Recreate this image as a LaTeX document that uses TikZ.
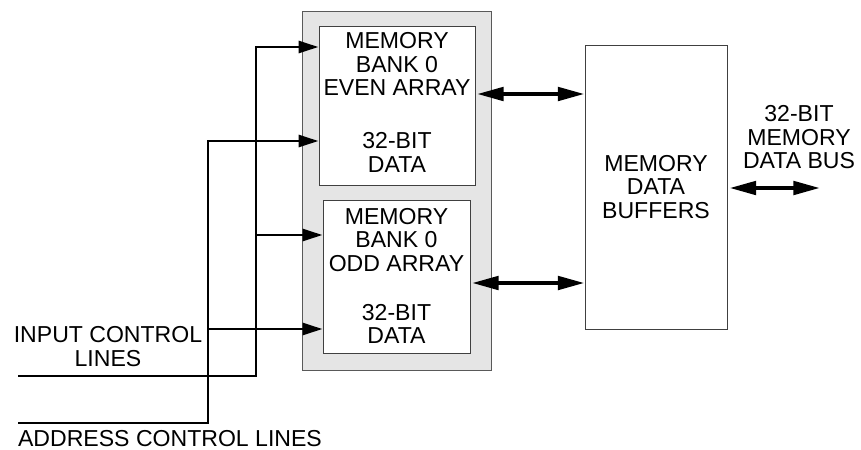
\documentclass[tikz,border=0pt]{standalone}
\usepackage{fontspec}
\setmainfont{Liberation Sans}
\usepackage{tikz}
\usetikzlibrary{arrows.meta, positioning}
\tikzset{
  lbl/.style={inner sep=0pt, align=center, anchor=north,
              font=\fontsize{17.3}{17.6}\selectfont},
  bankbox/.style={rectangle, draw=black!75, line width=0.75pt, fill=white},
  frame/.style={rectangle, draw=black!65, line width=0.75pt, fill=black!10},
  ctrl/.style={-{Triangle[length=15pt, width=9pt]}, line width=2.2pt},
  bus/.style={{Triangle[length=20pt, width=10pt]}-{Triangle[length=20pt, width=10pt]},
              line width=3pt},
}

\begin{document}
\begin{tikzpicture}[x=0.75pt, y=-0.75pt]
  \useasboundingbox (0,0) rectangle (861,450);

  % bank 0 with its two arrays
  \node[frame, minimum width=141.75pt, minimum height=269.25pt] (bank) at (396.5,190.5) {};
  \node[bankbox, minimum width=117pt, minimum height=119.25pt] (even) at (397,105.5) {};
  \node[bankbox, minimum width=110.25pt, minimum height=114.75pt] (odd) at (396.5,276.5) {};
  \node[lbl] (evenname) at (397,32.5) {MEMORY\\BANK 0\\EVEN ARRAY};
  \node[lbl] (evendata) at (397,132.5) {32-BIT\\DATA};
  \node[lbl] (oddname) at (396.5,208) {MEMORY\\BANK 0\\ODD ARRAY};
  \node[lbl] (odddata) at (396.5,304) {32-BIT\\DATA};

  % buffers
  \node[bankbox, minimum width=106.5pt, minimum height=213pt] (buf) at (656,187) {};
  \node[lbl] (bufname) at (656,155) {MEMORY\\DATA\\BUFFERS};
  \node[lbl] (busname) at (799,105.5) {32-BIT\\MEMORY\\DATA BUS};

  % control lines
  \node[lbl] (inname) at (108,326.5) {INPUT CONTROL\\LINES};
  \node[lbl] (adname) at (170,430.5) {ADDRESS CONTROL LINES};
  \coordinate (inL) at (18,376);
  \coordinate (adL) at (18,423);
  \coordinate (inbus) at (256,47);
  \coordinate (adbus) at (208,141);
  \draw[ctrl] (inL) -| (inbus) -- (inbus -| even.west);
  \draw[ctrl] (adL) -| (adbus) -- (adbus -| even.west);
  \foreach \x/\y in {256/235, 208/329}{
    \coordinate (tap) at (\x,\y);
    \draw[ctrl] (tap) -- (tap -| odd.west);
  }

  % data paths
  \coordinate (evenio) at (477,94);
  \coordinate (oddio) at (472,283);
  \coordinate (busend) at (820,188);
  \draw[bus] (evenio) -- (evenio -| buf.west);
  \draw[bus] (oddio) -- (oddio -| buf.west);
  \draw[bus] ([xshift=1.5pt]buf.east |- busend) -- (busend);
\end{tikzpicture}
\end{document}
